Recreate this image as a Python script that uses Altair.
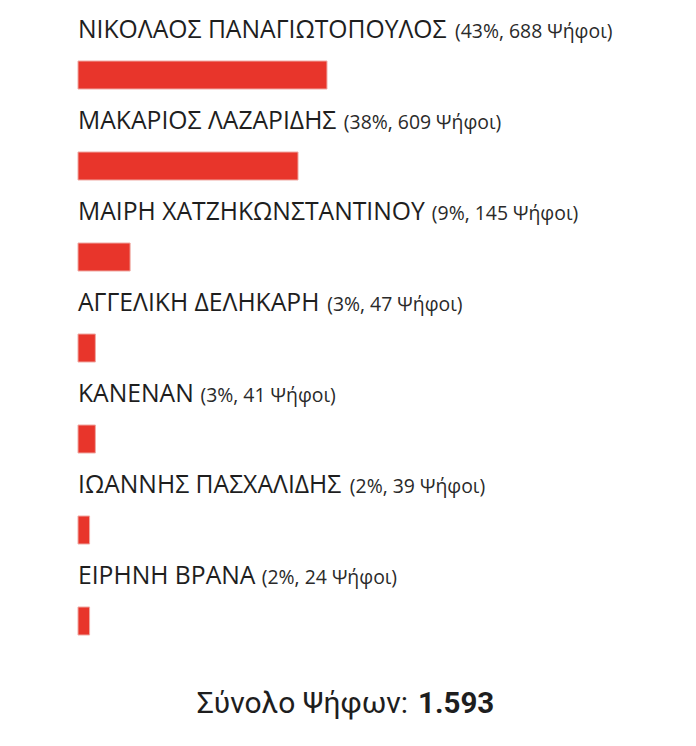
import altair as alt
import pandas as pd

# ---- data ----
names = [
    "ΝΙΚΟΛΑΟΣ ΠΑΝΑΓΙΩΤΟΠΟΥΛΟΣ",
    "ΜΑΚΑΡΙΟΣ ΛΑΖΑΡΙΔΗΣ",
    "ΜΑΙΡΗ ΧΑΤΖΗΚΩΝΣΤΑΝΤΙΝΟΥ",
    "ΑΓΓΕΛΙΚΗ ΔΕΛΗΚΑΡΗ",
    "ΚΑΝΕΝΑΝ",
    "ΙΩΑΝΝΗΣ ΠΑΣΧΑΛΙΔΗΣ",
    "ΕΙΡΗΝΗ ΒΡΑΝΑ",
]
percents = [43, 38, 9, 3, 3, 2, 2]
votes = [688, 609, 145, 47, 41, 39, 24]
total_label = "Σύνολο Ψήφων:"
total_value = "1.593"

# ---- approximate Open Sans advance widths (units per 2048 em) ----
OPEN_SANS_W = {
    "Α": 1296, "Β": 1327, "Γ": 1057, "Δ": 1286, "Ε": 1139, "Ζ": 1165,
    "Η": 1511, "Ι": 571, "Κ": 1257, "Λ": 1296, "Μ": 1849, "Ν": 1583,
    "Ο": 1597, "Π": 1511, "Ρ": 1237, "Σ": 1167, "Τ": 1124, "Υ": 1165,
    "Χ": 1202, "Ω": 1579, " ": 532,
}
NAME_SIZE = 24.7
PAREN_SIZE = 19.4
GAP = 5


def text_width(s, size):
    return sum(OPEN_SANS_W.get(c, 1200) for c in s) * size / 2048.0


df = pd.DataFrame({
    "name": names,
    "pct": percents,
    "votes": votes,
})
df["paren"] = [f"({p}%, {v} Ψήφοι)" for p, v in zip(percents, votes)]
df["paren_x"] = [text_width(n, NAME_SIZE) + GAP for n in names]

W = 579
H = 637

y_enc = alt.Y(
    "name:N",
    sort=names,
    scale=alt.Scale(paddingInner=0, paddingOuter=0),
    axis=None,
)

base = alt.Chart(df)

bars = base.mark_bar(
    size=28, color="#E8352B", stroke="#EFA9A3", strokeWidth=1
).encode(
    x=alt.X("pct:Q", scale=alt.Scale(domain=[0, 100]), axis=None),
    y=y_enc,
)

name_text = base.mark_text(
    align="left", baseline="alphabetic", dy=-37,
    font="Open Sans", fontSize=NAME_SIZE, color="#1e1e1e",
).encode(
    x=alt.value(0),
    y=y_enc,
    text="name:N",
)

paren_text = base.mark_text(
    align="left", baseline="alphabetic", dy=-37,
    font="Open Sans", fontSize=PAREN_SIZE, color="#2a2a2a",
).encode(
    x=alt.X("paren_x:Q", scale=None),
    y=y_enc,
    text="paren:N",
)

foot_df = pd.DataFrame({"label": [total_label], "value": [total_value]})

foot_label = alt.Chart(foot_df).mark_text(
    align="right", baseline="alphabetic",
    font="Roboto", fontSize=30, color="#1e1e1e",
).encode(
    x=alt.value(330), y=alt.value(683), text="label:N",
)

foot_value = alt.Chart(foot_df).mark_text(
    align="left", baseline="alphabetic",
    font="Roboto", fontSize=29.5, fontWeight="bold", color="#1e1e1e",
).encode(
    x=alt.value(340), y=alt.value(683), text="value:N",
)

chart = alt.layer(bars, name_text, paren_text, foot_label, foot_value).properties(
    width=W,
    height=H,
    background="white",
    autosize=alt.AutoSizeParams(type="none"),
    padding={"left": 70, "top": 21.5, "right": 20, "bottom": 60},
).configure_view(stroke=None)

chart.save("out.html", embed_options={"renderer": "svg", "actions": False})
